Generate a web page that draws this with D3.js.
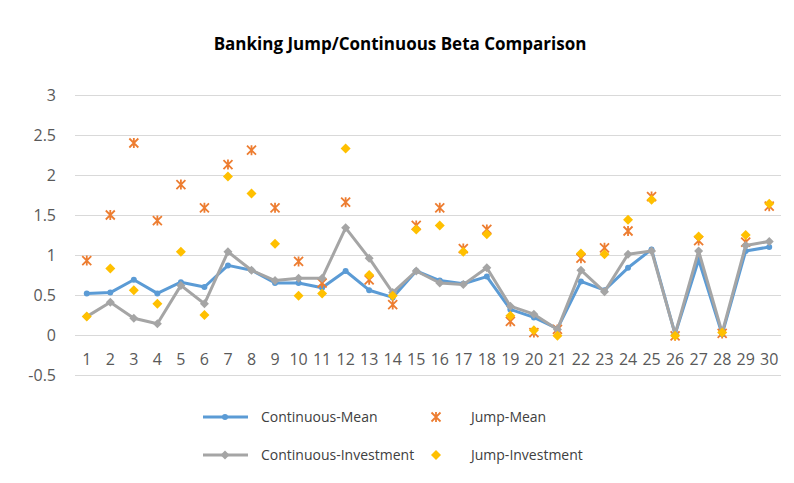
<!DOCTYPE html>
<html>
<head>
<meta charset="utf-8">
<style>
  body { margin: 0; background: #fff; }
  text { font-family: "Open Sans", "Noto Sans", sans-serif; }
  .grid line { stroke: #d9d9d9; stroke-width: 1px; }
  .ylab text, .xlab text { fill: #595959; font-size: 16px; }
  .legend text { fill: #404040; font-size: 14px; }
</style>
</head>
<body>
<div id="chart"></div>
<script src="https://cdn.jsdelivr.net/npm/d3@7"></script>
<script>
var width = 794, height = 483;

var categories = d3.range(1, 31);
var contMean = [0.52, 0.53, 0.69, 0.52, 0.66, 0.60, 0.87, 0.81, 0.65, 0.65,
                0.59, 0.80, 0.56, 0.47, 0.80, 0.68, 0.64, 0.73, 0.32, 0.22,
                0.08, 0.67, 0.56, 0.84, 1.07, 0.01, 0.94, 0.01, 1.05, 1.10];
var jumpMean = [0.93, 1.50, 2.40, 1.43, 1.88, 1.59, 2.13, 2.31, 1.59, 0.92,
                0.65, 1.66, 0.69, 0.38, 1.37, 1.59, 1.08, 1.32, 0.17, 0.03,
                0.07, 0.96, 1.09, 1.30, 1.73, -0.01, 1.18, 0.02, 1.16, 1.61];
var contInv = [0.23, 0.41, 0.21, 0.14, 0.62, 0.39, 1.04, 0.81, 0.68, 0.71,
               0.71, 1.34, 0.96, 0.53, 0.80, 0.65, 0.63, 0.84, 0.36, 0.26,
               0.07, 0.81, 0.54, 1.01, 1.05, 0.01, 1.05, 0.03, 1.12, 1.17];
var jumpInv = [0.23, 0.83, 0.56, 0.39, 1.04, 0.25, 1.98, 1.77, 1.14, 0.49,
               0.52, 2.33, 0.75, 0.49, 1.32, 1.37, 1.04, 1.26, 0.24, 0.06,
               -0.01, 1.02, 1.01, 1.44, 1.69, -0.01, 1.23, 0.03, 1.25, 1.64];
var yTicks = [-0.5, 0, 0.5, 1, 1.5, 2, 2.5, 3];

var svg = d3.select("#chart").append("svg")
    .attr("width", width)
    .attr("height", height);

var x = d3.scaleBand().domain(categories).range([75, 781]);
var y = d3.scaleLinear().domain([-0.5, 3]).range([375, 95]);
var cx = function(d, i) { return x(categories[i]) + x.bandwidth() / 2; };

// title
svg.append("text")
    .attr("x", 400).attr("y", 50)
    .attr("text-anchor", "middle")
    .style("font-size", "17px").style("font-weight", "bold").style("fill", "#000")
    .text("Banking Jump/Continuous Beta Comparison");

// gridlines + y labels
var yAxis = svg.append("g")
    .attr("class", "grid ylab")
    .attr("transform", "translate(75,0)")
    .call(d3.axisLeft(y).tickValues(yTicks).tickSize(-(781 - 75)).tickPadding(19)
        .tickFormat(function(d) { return String(d); }));
yAxis.select(".domain").remove();

// x labels sit just below the zero line
var xAxis = svg.append("g")
    .attr("class", "xlab")
    .attr("transform", "translate(0," + y(0) + ")")
    .call(d3.axisBottom(x).tickSize(0).tickPadding(19));
xAxis.select(".domain").remove();

// markers
var star = "M-4.5,-4.5L4.5,4.5M-4.5,4.5L4.5,-4.5M0,-5L0,5";
function diamond(r) { return "M0," + (-r) + "L" + r + ",0L0," + r + "L" + (-r) + ",0Z"; }

function drawLine(vals, color, marker) {
    var line = d3.line().x(cx).y(function(d) { return y(d); });
    svg.append("path").datum(vals)
        .attr("d", line)
        .attr("fill", "none").attr("stroke", color).attr("stroke-width", 3)
        .attr("stroke-linejoin", "round");
    svg.append("g").selectAll("path").data(vals).enter().append("path")
        .attr("transform", function(d, i) { return "translate(" + cx(d, i) + "," + y(d) + ")"; })
        .attr("d", marker)
        .attr("fill", color);
}
function drawPoints(vals, color, marker, stroked) {
    svg.append("g").selectAll("path").data(vals).enter().append("path")
        .attr("transform", function(d, i) { return "translate(" + cx(d, i) + "," + y(d) + ")"; })
        .attr("d", marker)
        .attr("fill", stroked ? "none" : color)
        .attr("stroke", stroked ? color : "none")
        .attr("stroke-width", 1.8);
}

var circle = d3.symbol().type(d3.symbolCircle).size(28)();
drawLine(contMean, "#5b9bd5", circle);
drawPoints(jumpMean, "#ed7d31", star, true);
drawLine(contInv, "#a5a5a5", diamond(4.5));
drawPoints(jumpInv, "#ffc000", diamond(5), false);

// legend
var lg = svg.append("g").attr("class", "legend");
var items = [
    { name: "Continuous-Mean", color: "#5b9bd5", kind: "line", mk: circle, x: 203, y: 417 },
    { name: "Jump-Mean", color: "#ed7d31", kind: "star", x: 436, y: 417 },
    { name: "Continuous-Investment", color: "#a5a5a5", kind: "line", mk: diamond(4.5), x: 203, y: 455 },
    { name: "Jump-Investment", color: "#ffc000", kind: "diamond", x: 436, y: 455 }
];
items.forEach(function(it) {
    if (it.kind === "line") {
        lg.append("line").attr("x1", it.x).attr("x2", it.x + 45)
            .attr("y1", it.y).attr("y2", it.y)
            .attr("stroke", it.color).attr("stroke-width", 3);
        lg.append("path").attr("transform", "translate(" + (it.x + 22) + "," + it.y + ")")
            .attr("d", it.mk).attr("fill", it.color);
        lg.append("text").attr("x", it.x + 58).attr("y", it.y).attr("dy", "0.35em").text(it.name);
    } else {
        var g = lg.append("path").attr("transform", "translate(" + it.x + "," + it.y + ")");
        if (it.kind === "star") {
            g.attr("d", star).attr("fill", "none").attr("stroke", it.color).attr("stroke-width", 1.8);
        } else {
            g.attr("d", diamond(5)).attr("fill", it.color);
        }
        lg.append("text").attr("x", it.x + 35).attr("y", it.y).attr("dy", "0.35em").text(it.name);
    }
});
</script>
</body>
</html>
